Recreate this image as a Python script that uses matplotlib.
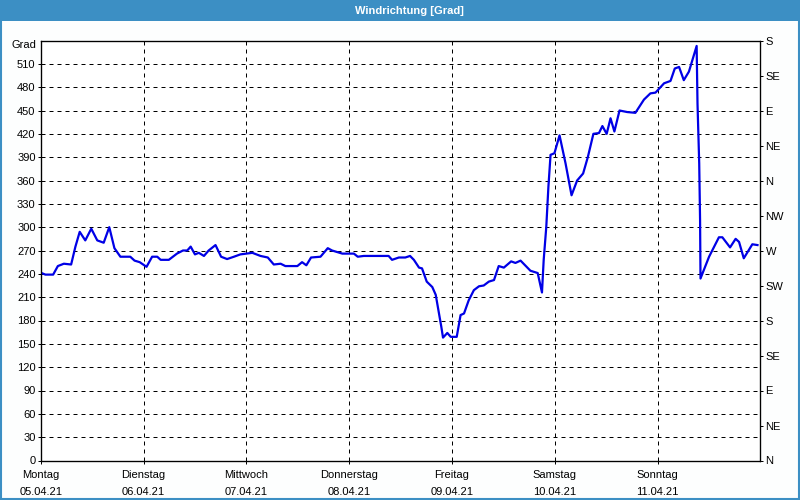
import numpy as np
import matplotlib.pyplot as plt
from matplotlib.patches import Rectangle
import matplotlib.transforms as mtransforms

plt.rcParams['font.family'] = ['Liberation Sans', 'DejaVu Sans']

# Stunden seit Montag 00:00 und Windrichtung in Grad
hours = [0.2, 1.1, 2.9, 4.0, 5.4, 7.1, 8.1, 9.1, 10.4, 11.8, 13.2, 14.7, 16.0, 17.2, 18.6,
         20.9, 21.9, 23.1, 24.7, 26.0, 27.2, 28.0, 29.9, 31.8, 33.2, 34.2, 35.0, 36.0, 36.9,
         38.1, 39.2, 40.8, 42.1, 43.5, 45.1, 46.6, 49.4, 51.3, 53.0, 54.4, 56.0, 57.1, 59.9,
         61.0, 62.0, 63.1, 65.3, 67.0, 68.0, 70.4, 73.1, 74.0, 75.4, 81.2, 82.0, 83.6, 85.1,
         86.2, 87.1, 88.3, 89.0, 90.1, 91.4, 92.2, 92.9, 93.5, 93.9, 94.9, 95.7, 97.1, 98.0,
         98.8, 99.9, 101.1, 102.3, 103.4, 104.6, 105.8, 106.9, 108.1, 109.8, 110.8, 112.0,
         114.3, 116.0, 117.0, 117.4, 118.0, 118.5, 119.0, 119.9, 121.1, 122.5, 123.9, 125.2,
         126.6, 127.7, 129.0, 130.3, 131.1, 132.1, 133.0, 133.9, 135.1, 136.9, 138.8, 140.8,
         142.3, 143.5, 145.5, 147.0, 148.0, 149.0, 150.1, 151.3, 153.1, 153.3, 153.7, 153.9,
         154.0, 156.0, 158.3, 159.1, 160.9, 162.2, 163.0, 164.1, 166.1, 167.3]
grad = [241, 239, 239, 250, 253, 252, 275, 294, 283, 298, 283, 280, 300, 273, 262,
        262, 257, 255, 249, 262, 262, 258, 258, 266, 270, 270, 275, 265, 267,
        263, 270, 277, 262, 259, 262, 265, 267, 263, 261, 252, 253, 250, 250,
        255, 251, 261, 262, 273, 270, 266, 266, 262, 263, 263, 258, 261, 261,
        263, 258, 248, 247, 230, 223, 213, 191, 172, 158, 164, 159, 159, 187,
        189, 206, 219, 224, 225, 230, 232, 250, 248, 256, 254, 257,
        244, 241, 216, 258, 300, 352, 393, 395, 418, 382, 341, 360,
        369, 390, 420, 421, 430, 420, 440, 423, 450, 448, 447, 464,
        472, 473, 485, 488, 504, 506, 489, 500, 533, 459, 382, 309,
        234, 262, 287, 287, 274, 285, 281, 260, 278, 277]

days = ['Montag', 'Dienstag', 'Mittwoch', 'Donnerstag', 'Freitag', 'Samstag', 'Sonntag']
dates = ['05.04.21', '06.04.21', '07.04.21', '08.04.21', '09.04.21', '10.04.21', '11.04.21']
left_ticks = list(range(0, 511, 30))
compass = ['N', 'NE', 'E', 'SE', 'S', 'SW', 'W', 'NW', 'N', 'NE', 'E', 'SE', 'S']

bar = '#3c8fc4'
fig = plt.figure(figsize=(8, 5), dpi=100, facecolor='#fdfefe')
ax = fig.add_axes([0.0509, 0.079, 0.8997, 0.84])
ax.set_facecolor('white')

ax.plot(hours, grad, color='#0000e6', lw=1.6, zorder=3)

ax.set_xlim(0, 168)
ax.set_ylim(0, 540)
ax.set_xticks([24 * i for i in range(7)])
ax.set_xticklabels([d + '\n' + t for d, t in zip(days, dates)], fontsize=8, linespacing=1.85)
ax.set_yticks(left_ticks)
ax.set_yticklabels([str(v) for v in left_ticks], fontsize=8)
ax.grid(True, color='black', lw=0.72, linestyle=(0, (4, 4)))
ax.tick_params(direction='out', length=2.2, width=0.72, pad=1.5, colors='black')
ax.tick_params(axis='x', pad=4.5)
for s in ax.spines.values():
    s.set_linewidth(0.9)

trans = mtransforms.blended_transform_factory(ax.transAxes, ax.transData)
ax.text(-0.006, 541, 'Grad', transform=trans, ha='right', va='top', fontsize=8)

ax2 = ax.twinx()
ax2.set_ylim(0, 540)
ax2.set_yticks(list(range(0, 541, 45)))
ax2.set_yticklabels(compass, fontsize=8)
ax2.tick_params(direction='out', length=2.2, width=0.72, pad=1.5)

fig.patches.append(Rectangle((0, 1 - 21 / 500), 1, 21 / 500, transform=fig.transFigure,
                             facecolor=bar, edgecolor='none', zorder=0))
fig.patches.append(Rectangle((0.001, 0.002), 0.998, 0.997, transform=fig.transFigure,
                             fill=False, edgecolor=bar, lw=1.5, zorder=5))
fig.text(0.512, 1 - 10.5 / 500, 'Windrichtung [Grad]', color='white', fontsize=8,
         fontweight='bold', ha='center', va='center')

fig.savefig('out.png', dpi=100, facecolor=fig.get_facecolor())
